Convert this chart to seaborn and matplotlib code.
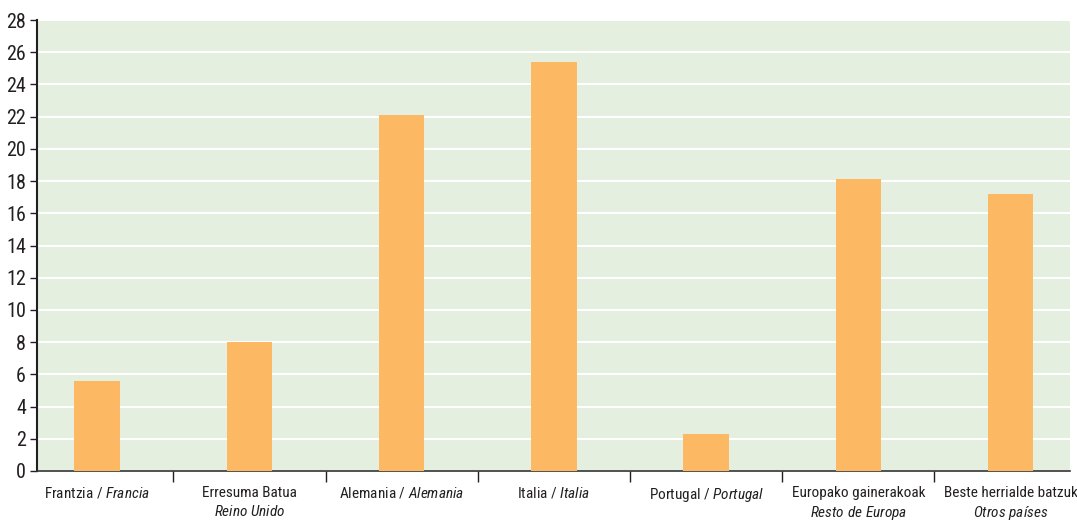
import numpy as np
import pandas as pd
import seaborn as sns
import matplotlib.pyplot as plt
from matplotlib import font_manager

# data
labels_eu = ['Frantzia', 'Erresuma Batua', 'Alemania', 'Italia', 'Portugal',
             'Europako gainerakoak', 'Beste herrialde batzuk']
labels_es = ['Francia', 'Reino Unido', 'Alemania', 'Italia', 'Portugal',
             'Resto de Europa', 'Otros países']
two_lines = [False, True, False, False, False, True, True]
values = [5.6, 8.0, 22.1, 25.4, 2.3, 18.1, 17.2]
yticks = list(range(0, 29, 2))

sns.set_theme(style='white')

# pick a narrow face if there is one, like the condensed font of the original
names = {f.name for f in font_manager.fontManager.ttflist}
narrow = 'Liberation Sans'
for cand in ['Roboto Condensed', 'Archivo Narrow', 'Liberation Sans Narrow']:
    if cand in names:
        narrow = cand
        break
plt.rcParams['font.family'] = [narrow, 'DejaVu Sans']
plt.rcParams['mathtext.fontset'] = 'custom'
plt.rcParams['mathtext.rm'] = narrow
plt.rcParams['mathtext.it'] = narrow + ':italic'

df = pd.DataFrame({'cat': labels_eu, 'val': values})

fig = plt.figure(figsize=(10.77, 5.21), dpi=100)
ax = fig.add_axes([37 / 1077, 50 / 521, (1070 - 37) / 1077, (471 - 20) / 521])
ax.set_facecolor('#e4efdf')

sns.barplot(data=df, x='cat', y='val', color='#fdb863', saturation=1,
            width=0.3, ax=ax, zorder=3, linewidth=0)

ax.set_ylim(0, 28)
ax.set_xlim(-0.395, 6.39)
ax.set_yticks(yticks)
ax.set_yticklabels([str(t) for t in yticks], fontsize=14.5, color='#231f20')
ax.yaxis.grid(True, color='white', linewidth=1.5, zorder=1)
ax.set_axisbelow(True)

# category separators as ticks
ax.set_xticks(np.arange(0.5, 6.0, 1.0))
ax.set_xticklabels([])
ax.tick_params(axis='x', which='major', direction='out', length=8, width=1,
               color='#231f20', bottom=True)
ax.tick_params(axis='y', direction='out', length=5, width=1, color='#231f20',
               left=True, pad=3)

for i, (eu, es, two) in enumerate(zip(labels_eu, labels_es, two_lines)):
    it = r'$\mathit{' + es.replace(' ', r'\ ') + '}$'
    if two:
        txt = eu + '\n' + it
    else:
        txt = eu + ' / ' + it
    ax.annotate(txt, xy=(i, 0), xytext=(0, -15), textcoords='offset pixels',
                ha='center', va='top', fontsize=11, color='#231f20',
                linespacing=1.3, annotation_clip=False)

ax.set_xlabel('')
ax.set_ylabel('')
for s in ['top', 'right']:
    ax.spines[s].set_visible(False)
ax.spines['left'].set_color('#231f20')
ax.spines['left'].set_linewidth(1.5)
ax.spines['bottom'].set_color('#333333')
ax.spines['bottom'].set_linewidth(1.2)

fig.savefig('out.png', dpi=100)
